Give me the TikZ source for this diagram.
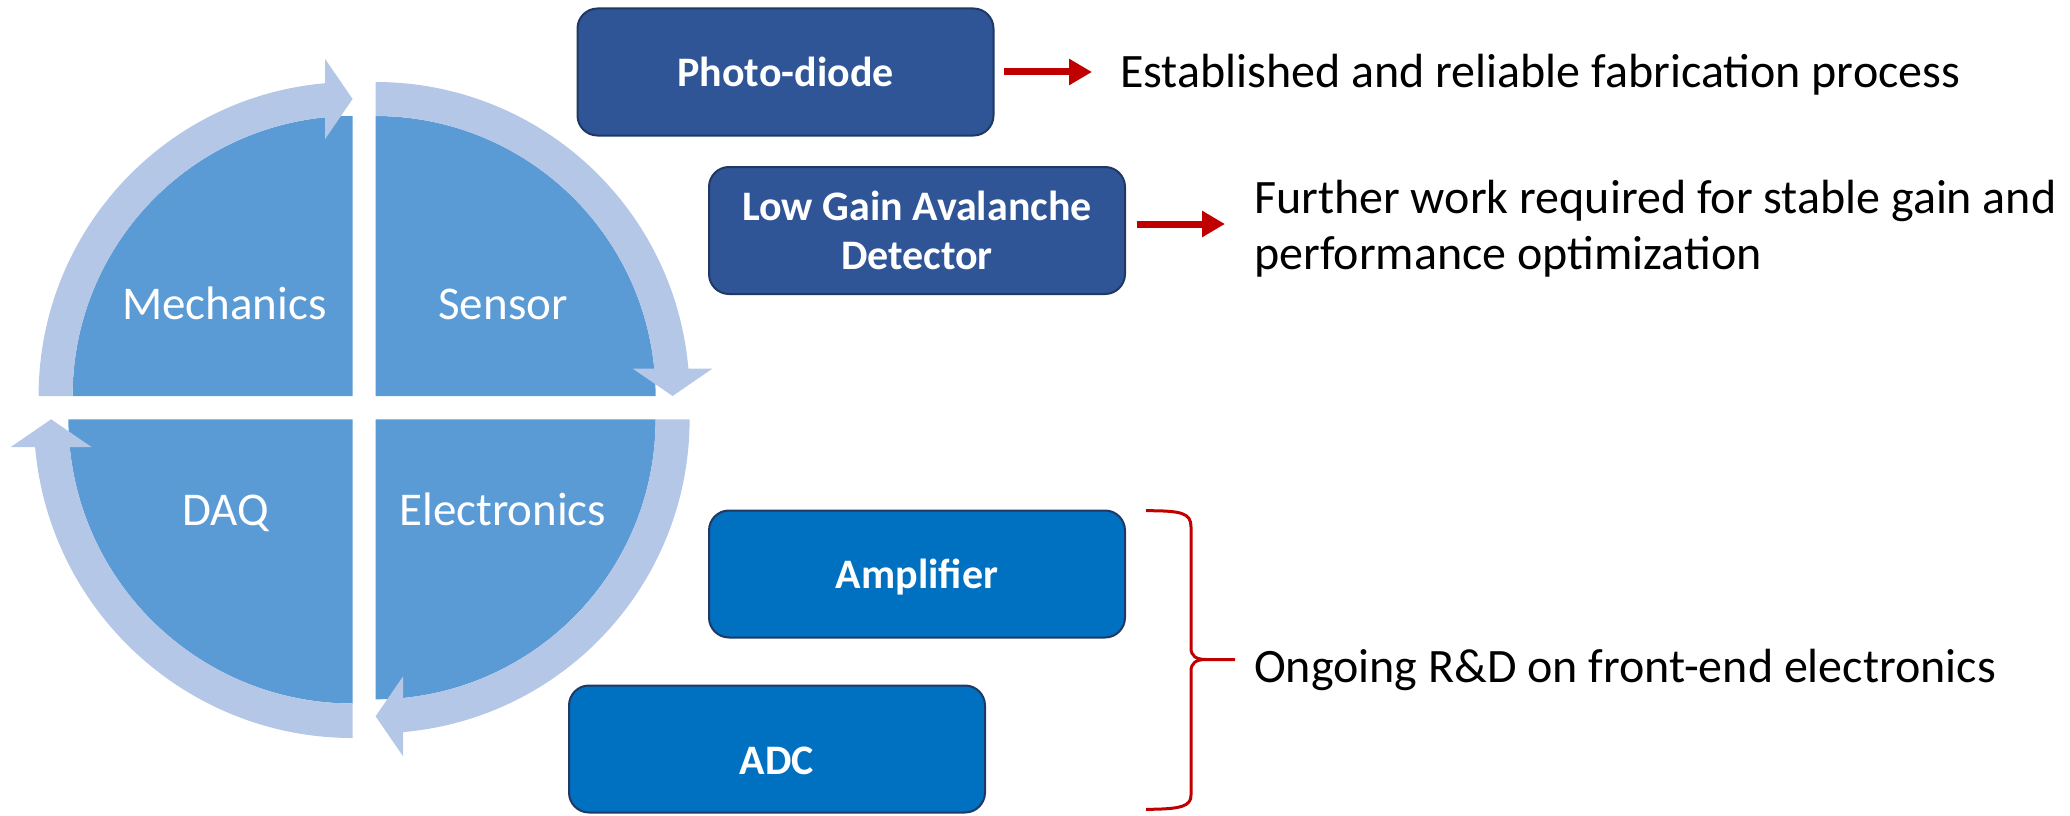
\documentclass[tikz,border=0pt]{standalone}
\usepackage{fontspec}
\setmainfont{Carlito}
\usetikzlibrary{arrows.meta,calc}

\definecolor{quadblue}{HTML}{5B9BD5}
\definecolor{bandblue}{HTML}{B4C7E7}
\definecolor{navybox}{HTML}{2F5597}
\definecolor{brightbox}{HTML}{0070C0}
\definecolor{boxline}{HTML}{203864}
\definecolor{darkred}{HTML}{C00000}

% One quarter of the cycle: a quarter disc plus its curved arrow.
% #1,#2 = corner of the quarter, #3 = rotation, #4 = scale
\newcommand\cyclequarter[4]{%
  \begin{scope}[shift={(#1,#2)},rotate=#3,scale=#4]
    \fill[quadblue] (0,0) -- (-280,0) arc[start angle=180,end angle=270,radius=280] -- cycle;
    \fill[bandblue] (-280,0) -- (-314,0)
      arc[start angle=180,end angle=264.98,radius=314]
      -- (-27.5,-337) -- (0,-297) -- (-27.5,-257) -- (-27.5,-278.65)
      arc[start angle=264.36,end angle=180,radius=280] -- cycle;
  \end{scope}}

\begin{document}
\begin{tikzpicture}[x=1pt,y=-1pt,
  qlabel/.style={text=white,font=\fontsize{47}{56}\selectfont,inner sep=0pt,anchor=base},
  boxbase/.style={rounded corners=20pt,draw=boxline,line width=2pt,text=white,
    font=\bfseries\fontsize{42}{49}\selectfont,minimum width=416pt,minimum height=127pt,
    inner sep=0pt,align=center},
  oneline/.style={text height=29pt,text depth=0pt},
  navy/.style={boxbase,fill=navybox},
  bright/.style={boxbase,fill=brightbox},
  note/.style={font=\fontsize{48}{56}\selectfont,inner sep=0pt,align=left},
  redarrow/.style={draw=darkred,line width=7pt,-{Triangle[length=23pt,width=25pt]}},
  bracepen/.style={draw=darkred,line width=3pt}
]
\useasboundingbox (0,0) rectangle (2070,816);

% cycle of four quarters
\cyclequarter{352.6}{396}{0}{1}
\cyclequarter{375.6}{396}{-90}{1}
\cyclequarter{375.6}{419.3}{-180}{1}
\cyclequarter{352.6}{419.3}{90}{1.015}

\node[qlabel] (mech) at (224.5,319) {Mechanics};
\node[qlabel] (sens) at (503,319) {Sensor};
\node[qlabel] (daq)  at (225.5,525) {DAQ};
\node[qlabel] (elec) at (502.8,525) {Electronics};

% sensor options
\node[navy,oneline] (pd) at (785.5,72) {Photo-diode};
\node[navy] (lg) at (917,230.5) {Low Gain Avalanche\\Detector};

% front-end electronics
\node[bright,oneline] (amp) at (917,574) {Amplifier};
\node[bright,oneline,text height=51pt] (adc) at (777,749) {ADC};

% remarks
\node[note,anchor=base west] (t1) at (1120,88) {Established and reliable fabrication process};
\node[note,anchor=west] (t2) at (1254,229) {Further work required for stable gain and\\performance optimization};
\node[note,anchor=base west] (t3) at (1254,682) {Ongoing R\&D on front-end electronics};

\draw[redarrow] ($(pd.east)+(9,0)$) -- ($(t1.west |- pd.east)+(-28,0)$);
\draw[redarrow] ($(lg.east)+(10.7,-6.5)$) -- ($(t2.west |- lg.east)+(-29,-6.5)$);

% curly brace grouping amplifier and ADC
\draw[bracepen,line join=round]
  (1146,510.7) .. controls (1182,510.7) and (1191,513) .. (1191,527)
  -- (1191,648) .. controls (1191,656) and (1196,659.5) .. (1206,659.5)
  -- (1235,659.5);
\draw[bracepen,line join=round]
  (1206,659.5) .. controls (1196,659.5) and (1191,663) .. (1191,671)
  -- (1191,795) .. controls (1191,806) and (1182,809.3) .. (1146,809.3);
\end{tikzpicture}
\end{document}
